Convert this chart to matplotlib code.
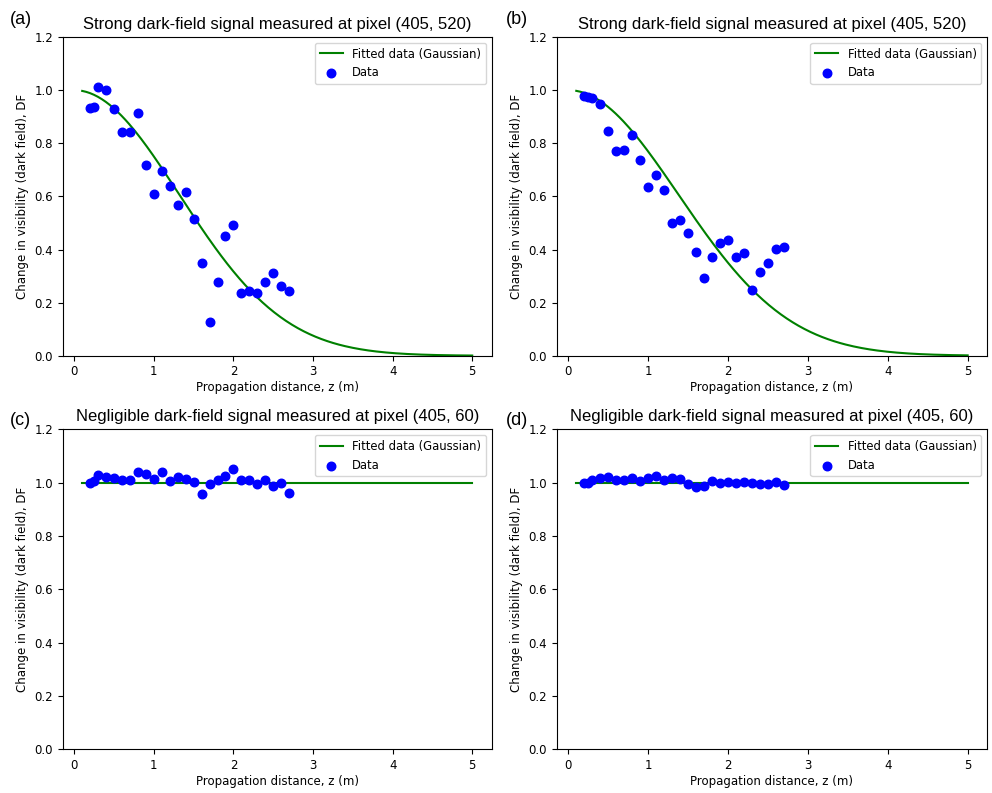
#!/usr/bin/env python3
"""
Dark-field visibility change vs propagation distance, 4 panels
"""

import matplotlib.pyplot as plt
import numpy as np

# Propagation distances (m) of the measurements
z_meas = [0.2, 0.25, 0.3, 0.4, 0.5, 0.6, 0.7, 0.8, 0.9, 1.0, 1.1, 1.2, 1.3, 1.4,
          1.5, 1.6, 1.7, 1.8, 1.9, 2.0, 2.1, 2.2, 2.3, 2.4, 2.5, 2.6, 2.7]

# Measured DF - strong signal, pixel (405, 520)
df_a = [0.931, 0.935, 1.013, 1.000, 0.928, 0.843, 0.843, 0.914, 0.718, 0.610,
        0.696, 0.638, 0.566, 0.618, 0.513, 0.350, 0.127, 0.277, 0.452, 0.493,
        0.238, 0.245, 0.235, 0.277, 0.311, 0.264, 0.242]
df_b = [0.979, 0.975, 0.972, 0.946, 0.848, 0.770, 0.776, 0.831, 0.737, 0.635,
        0.680, 0.625, 0.501, 0.511, 0.462, 0.392, 0.294, 0.370, 0.423, 0.435,
        0.370, 0.386, 0.249, 0.314, 0.351, 0.403, 0.410]

# Measured DF - negligible signal, pixel (405, 60)
df_c = [0.997, 1.005, 1.029, 1.020, 1.018, 1.010, 1.010, 1.039, 1.031, 1.014,
        1.041, 1.005, 1.021, 1.014, 1.001, 0.956, 0.996, 1.010, 1.024, 1.050,
        1.010, 1.010, 0.994, 1.011, 0.989, 0.999, 0.962]
df_d = [0.997, 0.997, 1.011, 1.018, 1.023, 1.010, 1.010, 1.018, 1.005, 1.016,
        1.026, 1.010, 1.019, 1.015, 0.995, 0.982, 0.986, 1.008, 0.997, 1.002,
        0.997, 1.002, 0.997, 0.994, 0.994, 1.002, 0.992]

# Gaussian fit parameters (amplitude, sigma in m); None sigma = flat fit
fit_amp = [1.0, 1.0, 1.0, 1.0]
fit_sigma = [1.32, 1.38, None, None]

titles = ['Strong dark-field signal measured at pixel (405, 520)',
          'Strong dark-field signal measured at pixel (405, 520)',
          'Negligible dark-field signal measured at pixel (405, 60)',
          'Negligible dark-field signal measured at pixel (405, 60)']
panel_tags = ['(a)', '(b)', '(c)', '(d)']
data_sets = [df_a, df_b, df_c, df_d]

fig = plt.figure(figsize=(9.92, 7.93), dpi=100)

# axes rectangles in figure fraction
rects = [[0.0632, 0.5514, 0.4325, 0.4019],
         [0.5612, 0.5514, 0.4340, 0.4019],
         [0.0632, 0.0551, 0.4325, 0.4035],
         [0.5612, 0.0551, 0.4340, 0.4035]]
tag_pos = [(0.010, 0.976), (0.510, 0.976), (0.010, 0.470), (0.510, 0.470)]

z_fit = np.linspace(0.1, 5, 200)

for i in range(4):
    ax = fig.add_axes(rects[i])
    if fit_sigma[i] is None:
        y_fit = np.full_like(z_fit, fit_amp[i])
    else:
        y_fit = fit_amp[i] * np.exp(-z_fit**2 / (2 * fit_sigma[i]**2))
    ax.plot(z_fit, y_fit, color='green', linewidth=1.5, label='Fitted data (Gaussian)')
    ax.scatter(z_meas, data_sets[i], color='blue', s=38, label='Data', zorder=3)
    ax.set_ylim(0, 1.2)
    ax.set_xticks([0, 1, 2, 3, 4, 5])
    ax.set_yticks([0.0, 0.2, 0.4, 0.6, 0.8, 1.0, 1.2])
    ax.tick_params(labelsize=8.5)
    ax.set_xlabel('Propagation distance, z (m)', fontsize=8.5, labelpad=2)
    ax.set_ylabel('Change in visibility (dark field), DF', fontsize=8.5)
    ax.set_title(titles[i], fontsize=12, family='Liberation Sans', pad=6)
    ax.legend(loc='upper right', fontsize=8.4)
    fig.text(tag_pos[i][0], tag_pos[i][1], panel_tags[i], fontsize=13,
             family='Liberation Sans', va='center')

plt.savefig('out.png', dpi=100)
